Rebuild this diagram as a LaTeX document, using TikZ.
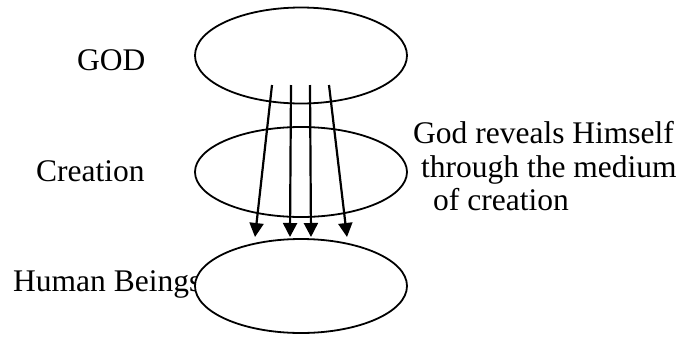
\documentclass[tikz,border=0pt]{standalone}
\usepackage{fontspec}
\setmainfont{Liberation Serif}
\usetikzlibrary{arrows.meta,shapes.geometric}
\tikzset{
  oval/.style={ellipse, draw=black, line width=1.8pt, fill=white, minimum width=212pt, minimum height=96pt, inner sep=0pt},
  lbl/.style={anchor=base west, inner sep=0pt, font=\fontsize{31.5}{32}\selectfont},
  revarrow/.style={line width=2.2pt, -{Triangle[length=14pt,width=14pt]}}
}
\begin{document}
\begin{tikzpicture}[x=1pt,y=-1pt]
\useasboundingbox (0,0) rectangle (681,338);
\node[lbl] (godlbl) at (77,70) {GOD};
\node[lbl] (crlbl) at (36,181) {Creation};
\node[lbl] (hblbl) at (13,291) {Human Beings};
\node[oval] (god) at (301,55.5) {};
\node[oval, minimum height=90pt] (creation) at (301,172) {};
\node[oval, minimum height=94pt] (human) at (301,286) {};
\node[lbl] (l1) at (413,143) {God reveals Himself};
\node[lbl] (l2) at (421,177) {through the medium};
\node[lbl] (l3) at (433,210) {of creation};
\coordinate (s1) at (272,85);
\coordinate (s2) at (291,85);
\coordinate (s3) at (310,85);
\coordinate (s4) at (329,85);
\coordinate (t1) at (255,237);
\coordinate (t2) at (290,237);
\coordinate (t3) at (311,237);
\coordinate (t4) at (347,237);
\draw[revarrow] (s1) -- (t1);
\draw[revarrow] (s2) -- (t2);
\draw[revarrow] (s3) -- (t3);
\draw[revarrow] (s4) -- (t4);
\end{tikzpicture}
\end{document}
